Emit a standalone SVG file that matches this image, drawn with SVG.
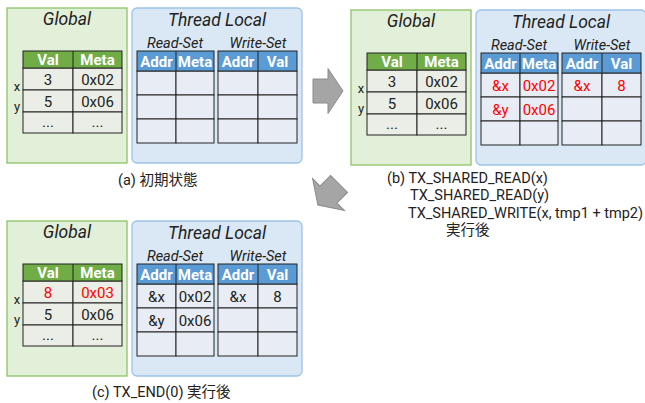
<svg xmlns="http://www.w3.org/2000/svg" width="645" height="403" viewBox="0 0 645 403">
<style>
text{font-family:Roboto,"Noto Sans CJK JP",sans-serif;fill:#222}
.title{font-size:17.5px;font-style:italic;text-anchor:middle}
.sub{font-size:14.5px;font-style:italic;text-anchor:middle}
.hdr{font-size:15px;font-weight:bold;fill:#fff;text-anchor:middle}
.cell{font-size:15px;text-anchor:middle}
.lbl{font-size:13px;text-anchor:middle}
.red{fill:#ff0000}
.cap{font-size:14.5px}
.gbox{fill:#e2efd9;stroke:#8cc466;stroke-width:1.3}
.bbox{fill:#dae8f5;stroke:#9dc3e6;stroke-width:1.3}
.ghdr{fill:#70ad47}
.bhdr{fill:#5b9bd5}
.gcell{fill:#ebeee6;stroke:#222;stroke-width:1}
.bcell{fill:#e8edf5;stroke:#222;stroke-width:1}
.arrow{fill:#a5a5a5;stroke:#8a8a8a;stroke-width:1}
</style>
<defs>
<g id="globalTable">
<rect class="gbox" x="7" y="8" width="120" height="155"/>
<text class="title" x="67" y="25">Global</text>
<text class="lbl" x="17" y="91">x</text>
<text class="lbl" x="17" y="111">y</text>
<rect class="gcell" x="23" y="68" width="50" height="22"/>
<rect class="gcell" x="73" y="68" width="49" height="22"/>
<rect class="gcell" x="23" y="90" width="50" height="22"/>
<rect class="gcell" x="73" y="90" width="49" height="22"/>
<rect class="gcell" x="23" y="112" width="50" height="21"/>
<rect class="gcell" x="73" y="112" width="49" height="21"/>
<rect class="ghdr" x="23" y="51" width="99" height="17" stroke="#222" stroke-width="1"/>
<line x1="73" y1="51" x2="73" y2="68" stroke="#222"/>
<text class="hdr" x="48" y="65">Val</text>
<text class="hdr" x="97.5" y="65">Meta</text>
<text class="cell" x="48" y="127">...</text>
<text class="cell" x="97.5" y="127">...</text>
</g>
<g id="localTable">
<rect class="bbox" x="132" y="8" width="170" height="155" rx="5"/>
<text class="title" x="217" y="26">Thread Local</text>
<text class="sub" x="175" y="48">Read-Set</text>
<text class="sub" x="258" y="48">Write-Set</text>
<rect class="bcell" x="137" y="71" width="39" height="24"/>
<rect class="bcell" x="176" y="71" width="38" height="24"/>
<rect class="bcell" x="137" y="95" width="39" height="24"/>
<rect class="bcell" x="176" y="95" width="38" height="24"/>
<rect class="bcell" x="137" y="119" width="39" height="24"/>
<rect class="bcell" x="176" y="119" width="38" height="24"/>
<rect class="bcell" x="218" y="71" width="40" height="24"/>
<rect class="bcell" x="258" y="71" width="39" height="24"/>
<rect class="bcell" x="218" y="95" width="40" height="24"/>
<rect class="bcell" x="258" y="95" width="39" height="24"/>
<rect class="bcell" x="218" y="119" width="40" height="24"/>
<rect class="bcell" x="258" y="119" width="39" height="24"/>
<rect class="bhdr" x="137" y="51" width="77" height="20" stroke="#222" stroke-width="1"/>
<rect class="bhdr" x="218" y="51" width="79" height="20" stroke="#222" stroke-width="1"/>
<line x1="176" y1="51" x2="176" y2="71" stroke="#222"/>
<line x1="258" y1="51" x2="258" y2="71" stroke="#222"/>
<text class="hdr" x="156.5" y="66.5">Addr</text>
<text class="hdr" x="195" y="66.5">Meta</text>
<text class="hdr" x="238" y="66.5">Addr</text>
<text class="hdr" x="277.5" y="66.5">Val</text>
</g>
<path id="blockArrow" d="M-15,-12 H0 V-22.5 L15,0 L0,22.5 V12 H-15 Z"/>
</defs>

<g id="panel-a">
<g id="a-global">
<use href="#globalTable"/>
<text class="cell" x="48" y="84.5">3</text>
<text class="cell" x="97.5" y="84.5">0x02</text>
<text class="cell" x="48" y="106.5">5</text>
<text class="cell" x="97.5" y="106.5">0x06</text>
</g>
<g id="a-local">
<use href="#localTable"/>
</g>
<text id="a-caption" class="cap" x="118" y="185">(a) 初期状態</text>
</g>

<g id="panel-b" transform="translate(344,2)">
<g id="b-global">
<use href="#globalTable"/>
<text class="cell" x="48" y="84.5">3</text>
<text class="cell" x="97.5" y="84.5">0x02</text>
<text class="cell" x="48" y="106.5">5</text>
<text class="cell" x="97.5" y="106.5">0x06</text>
</g>
<g id="b-local">
<use href="#localTable"/>
<text class="cell red" x="156.5" y="88.5">&amp;x</text>
<text class="cell red" x="195" y="88.5">0x02</text>
<text class="cell red" x="156.5" y="112.5">&amp;y</text>
<text class="cell red" x="195" y="112.5">0x06</text>
<text class="cell red" x="238" y="88.5">&amp;x</text>
<text class="cell red" x="277.5" y="88.5">8</text>
</g>
</g>
<g id="b-caption">
<text class="cap" x="387" y="183">(b) TX_SHARED_READ(x)</text>
<text class="cap" x="410" y="200">TX_SHARED_READ(y)</text>
<text class="cap" x="408" y="218">TX_SHARED_WRITE(x, tmp1 + tmp2)</text>
<text class="cap" x="446" y="235">実行後</text>
</g>

<g id="panel-c" transform="translate(0,213)">
<g id="c-global">
<use href="#globalTable"/>
<text class="cell red" x="48" y="84.5">8</text>
<text class="cell red" x="97.5" y="84.5">0x03</text>
<text class="cell" x="48" y="106.5">5</text>
<text class="cell" x="97.5" y="106.5">0x06</text>
</g>
<g id="c-local">
<use href="#localTable"/>
<text class="cell" x="156.5" y="88.5">&amp;x</text>
<text class="cell" x="195" y="88.5">0x02</text>
<text class="cell" x="156.5" y="112.5">&amp;y</text>
<text class="cell" x="195" y="112.5">0x06</text>
<text class="cell" x="238" y="88.5">&amp;x</text>
<text class="cell" x="277.5" y="88.5">8</text>
</g>
</g>
<text id="c-caption" class="cap" x="92" y="397">(c) TX_END(0) 実行後</text>

<g id="connectors">
<use class="arrow" href="#blockArrow" transform="translate(328,91)"/>
<use class="arrow" href="#blockArrow" transform="translate(328.5,194.5) rotate(135)"/>
</g>
</svg>
